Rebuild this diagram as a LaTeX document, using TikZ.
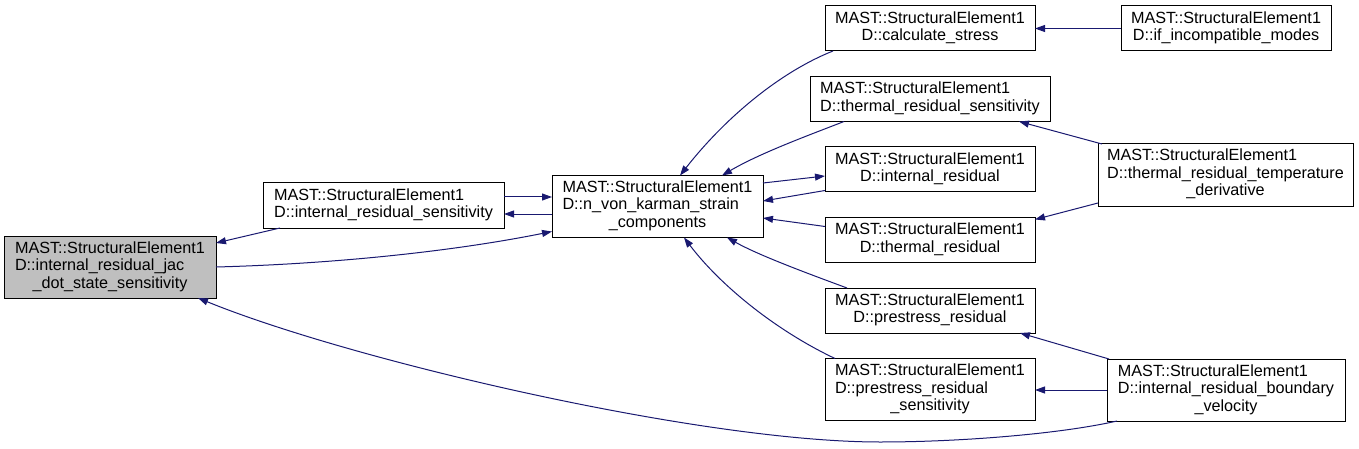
\documentclass[tikz,border=0pt]{standalone}
\usepackage{fontspec}
\setmainfont{Liberation Sans}
\usepackage{xcolor}
\usepackage{tikz}
\usetikzlibrary{positioning, arrows.meta}

\definecolor{edgeblue}{HTML}{191970}
\definecolor{rootgrey}{HTML}{BFBFBF}

\newcommand{\fnname}[1]{\begin{tabular}{@{}l@{}}MAST::StructuralElement1\\\multicolumn{1}{@{}c@{}}{#1}\end{tabular}}
\newcommand{\fnnamelong}[2]{\begin{tabular}{@{}l@{}}MAST::StructuralElement1\\#1\\\multicolumn{1}{@{}c@{}}{#2}\end{tabular}}

\begin{document}
\begin{tikzpicture}[
    x=1pt, y=-1pt,
    node distance=25.5pt and 86pt,
    font=\fontsize{16.2}{17.5}\selectfont,
    fn/.style={draw, rectangle, line width=1pt, outer sep=0pt, minimum width=210pt, minimum height=45pt, inner xsep=4pt, inner ysep=2pt},
    fnx/.style={fn, minimum height=62pt},
    call/.style={-{Triangle[length=10pt,width=7pt]}, draw=edgeblue, line width=1pt}
]
\useasboundingbox (0,0) rectangle (1359,449);

% Nodes
\node[fnx, fill=rootgrey, minimum width=212pt] (jacdot) at (110,267) {\fnnamelong{D::internal\_residual\_jac}{\_dot\_state\_sensitivity}};
\node[fn, minimum width=241pt] (irsens) at (383.5,205.5) {\fnname{D::internal\_residual\_sensitivity}};
\node[fnx, minimum width=211pt] (vonkarman) at (657.5,206.5) {\fnnamelong{D::n\_von\_karman\_strain}{\_components}};
\node[fn] (calcstress) at (930,28.5) {\fnname{D::calculate\_stress}};
\node[fn, below=of calcstress, minimum width=240pt] (thermsens) {\fnname{D::thermal\_residual\_sensitivity}};
\node[fn, below=of thermsens] (intres) {\fnname{D::internal\_residual}};
\node[fn, below=of intres] (thermres) {\fnname{D::thermal\_residual}};
\node[fn, below=of thermres] (preres) {\fnname{D::prestress\_residual}};
\node[fnx, below=of preres] (presens) {\fnnamelong{D::prestress\_residual}{\_sensitivity}};
\node[fn, right=of calcstress] (incompat) {\fnname{D::if\_incompatible\_modes}};
\node[fnx, minimum width=255pt] (tempderiv) at (1225.5,175) {\fnnamelong{D::thermal\_residual\_temperature}{\_derivative}};
\node[fnx, minimum width=238pt] (bndvel) at (1226,390) {\fnnamelong{D::internal\_residual\_boundary}{\_velocity}};

% Edges
\draw[call] ([xshift=17pt]irsens.south west) -- ([yshift=-7pt]jacdot.north east);
\draw[call] (jacdot.east) .. controls (330,264) and (450,252) .. ([yshift=6pt]vonkarman.south west);
\draw[call] ([yshift=8.5pt]irsens.east) -- ([yshift=9.5pt]vonkarman.west);
\draw[call] ([yshift=-7.5pt]vonkarman.west) -- ([yshift=-8.5pt]irsens.east);
\draw[call] ([xshift=8pt]calcstress.south west) .. controls (780,72) and (725,118) .. ([xshift=128pt]vonkarman.north west);
\draw[call] ([xshift=34pt]thermsens.south west) .. controls (812,134) and (760,153) .. ([xshift=170pt]vonkarman.north west);
\draw[call] ([yshift=23.5pt]vonkarman.east) -- ([yshift=-6.5pt]intres.west);
\draw[call] ([yshift=-21pt]intres.west) -- ([yshift=5.5pt]vonkarman.east);
\draw[call] ([yshift=13.5pt]thermres.west) -- ([yshift=-11.5pt]vonkarman.east);
\draw[call] ([xshift=22pt]preres.north west) .. controls (812,275) and (760,256) .. ([xshift=-36pt]vonkarman.south east);
\draw[call] ([xshift=10pt]presens.north west) .. controls (775,330) and (720,285) .. ([xshift=132pt]vonkarman.south west);
\draw[call] (incompat) -- (calcstress);
\draw[call] ([xshift=4pt]tempderiv.north west) -- ([xshift=-31pt]thermsens.south east);
\draw[call] ([yshift=3pt]tempderiv.south west) -- ([yshift=-2pt]thermres.north east);
\draw[call] ([xshift=2pt]bndvel.north west) -- ([xshift=-15pt]preres.south east);
\draw[call] (bndvel.west) -- (bndvel.west -| presens.east);
\draw[call] ([xshift=10pt]bndvel.south west) .. controls (1060,434) and (960,442) .. (880,442) .. controls (700,442) and (350,360) .. ([xshift=-18pt]jacdot.south east);
\end{tikzpicture}
\end{document}
